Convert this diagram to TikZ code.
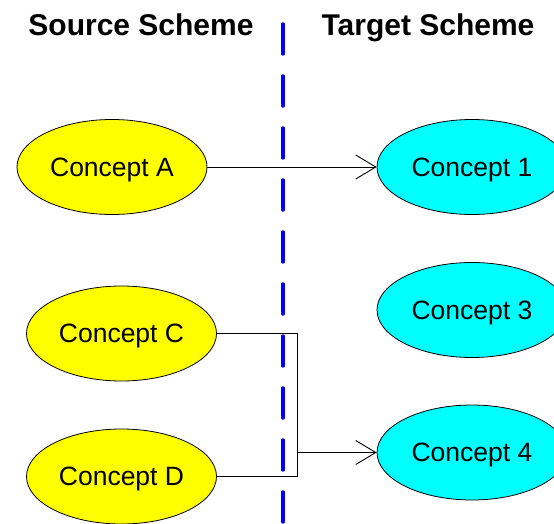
\documentclass[tikz,border=0pt]{standalone}
\usepackage{fontspec}
\setmainfont{Liberation Sans}
\usetikzlibrary{shapes.geometric,arrows.meta}
\definecolor{srcfill}{RGB}{255,255,0}
\definecolor{tgtfill}{RGB}{0,255,255}
\definecolor{divblue}{RGB}{0,0,255}
\tikzset{
  concept/.style={ellipse, draw=black, line width=0.8pt, minimum width=190pt, minimum height=95pt, inner sep=0pt, text depth=0pt, font=\fontsize{26.5}{30}\selectfont},
  src/.style={concept, fill=srcfill},
  tgt/.style={concept, fill=tgtfill},
  title/.style={anchor=base, inner sep=0pt, font=\fontsize{30}{34}\selectfont\bfseries},
  link/.style={draw=black, line width=0.9pt},
  arrowlink/.style={link, -{Straight Barb[length=20pt,width=24pt,line width=0.9pt]}},
  divider/.style={draw=divblue, line width=3.4pt, line cap=round, dash pattern=on 30pt off 22pt}
}
\begin{document}
\begin{tikzpicture}[x=1pt,y=-1pt]
\useasboundingbox (0,0) rectangle (554,524);
% divider
\coordinate (dtop) at (283,24);
\coordinate (dbot) at (283,540);
\draw[divider] (dtop) -- (dbot);
% titles
\node[title] (srctitle) at (141,35.5) {Source Scheme};
\node[title] (tgttitle) at (428,35.5) {Target Scheme};
% concepts
\node[src] (A) at (112,167) {Concept A};
\node[src] (C) at (121.5,333.5) {Concept C};
\node[src] (D) at (121.5,476.5) {Concept D};
\node[tgt] (c1) at (472,167) {Concept 1};
\node[tgt] (c3) at (472,310) {Concept 3};
\node[tgt] (c4) at (472,452.5) {Concept 4};
% connectors
\draw[arrowlink] (A.east) -- (c1.west);
\coordinate (jC) at (297,333.5);
\coordinate (jD) at (297,476.5);
\coordinate (jM) at (297,452.5);
\draw[link] (C.east) -- (jC) -- (jD) -- (D.east);
\draw[arrowlink] (jM) -- (c4.west);
\end{tikzpicture}
\end{document}
